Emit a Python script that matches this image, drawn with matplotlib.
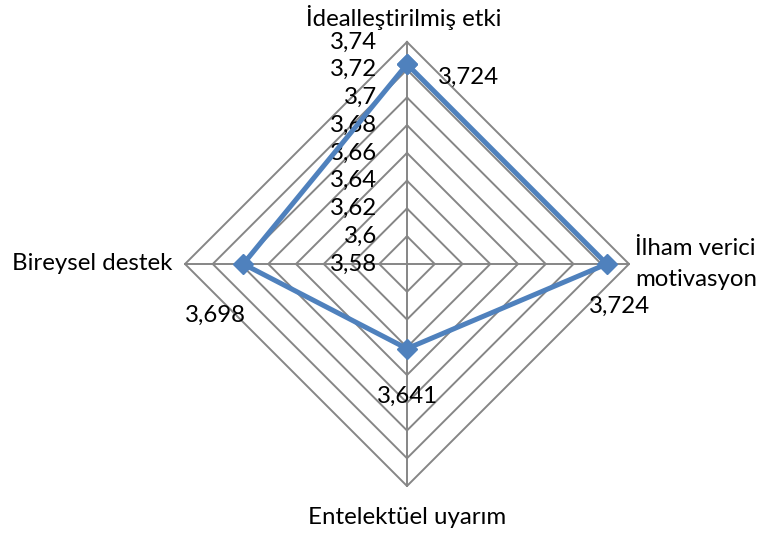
import numpy as np
import matplotlib
matplotlib.use("Agg")
import matplotlib.pyplot as plt

plt.rcParams['font.family'] = ['Lato', 'DejaVu Sans']

categories = ["İdealleştirilmiş etki", "İlham verici\nmotivasyon", "Entelektüel uyarım", "Bireysel destek"]
values = [3.724, 3.724, 3.641, 3.698]
value_labels = ["3,724", "3,724", "3,641", "3,698"]
ring_values = [3.58, 3.60, 3.62, 3.64, 3.66, 3.68, 3.70, 3.72, 3.74]
ring_labels = ["3,58", "3,6", "3,62", "3,64", "3,66", "3,68", "3,7", "3,72", "3,74"]
rmin, rmax = 3.58, 3.74

W, H = 766, 533
fig = plt.figure(figsize=(W / 100, H / 100), dpi=100)
cx, cy, rpx = 407, 264, 222
half = 250
ax = fig.add_axes([(cx - half) / W, (H - cy - half) / H, 2 * half / W, 2 * half / H])
lim = half / rpx * (rmax - rmin)
ax.set_xlim(-lim, lim)
ax.set_ylim(-lim, lim)
ax.axis('off')

# directions: top, right, bottom, left
dirs = np.array([[0, 1], [1, 0], [0, -1], [-1, 0]], dtype=float)

def pts(vals):
    r = np.array(vals) - rmin
    return dirs * r[:, None]

FS = 17.3
grid_c = '#868686'
for rv in ring_values[1:]:
    p = pts([rv] * 4)
    p = np.vstack([p, p[:1]])
    ax.plot(p[:, 0], p[:, 1], color=grid_c, lw=1.4, zorder=1)
outer = pts([rmax] * 4)
for (x, y) in outer:
    ax.plot([0, x], [0, y], color=grid_c, lw=1.4, zorder=1)

# tick labels along top spoke
for rv, lab in zip(ring_values, ring_labels):
    ax.annotate(lab, (0, rv - rmin), xytext=(-30, 0), textcoords='offset pixels',
                ha='right', va='center', fontsize=FS, color='black')

# series
p = pts(values)
pc = np.vstack([p, p[:1]])
ax.plot(pc[:, 0], pc[:, 1], color='#4F81BD', lw=3.6, marker='D', markersize=10,
        markerfacecolor='#4F81BD', markeredgecolor='#4F81BD', zorder=3)

lab_off = [((31, -13), 'left'), ((13, -42), 'center'), ((0, -48), 'center'), ((-28, -51), 'center')]
for (x, y), lab, (off, ha) in zip(p, value_labels, lab_off):
    ax.annotate(lab, (x, y), xytext=off, textcoords='offset pixels', ha=ha, va='center',
                fontsize=FS, color='black')

cat_off = [((-3, 25), 'center'), ((6, 0), 'left'), ((0, -32), 'center'), ((-13, 0), 'right')]
for (x, y), lab, (off, ha) in zip(outer, categories, cat_off):
    ax.annotate(lab, (x, y), xytext=off, textcoords='offset pixels', ha=ha, va='center',
                fontsize=FS, color='black', linespacing=1.55, multialignment='left')

fig.savefig('out.png', dpi=100)
